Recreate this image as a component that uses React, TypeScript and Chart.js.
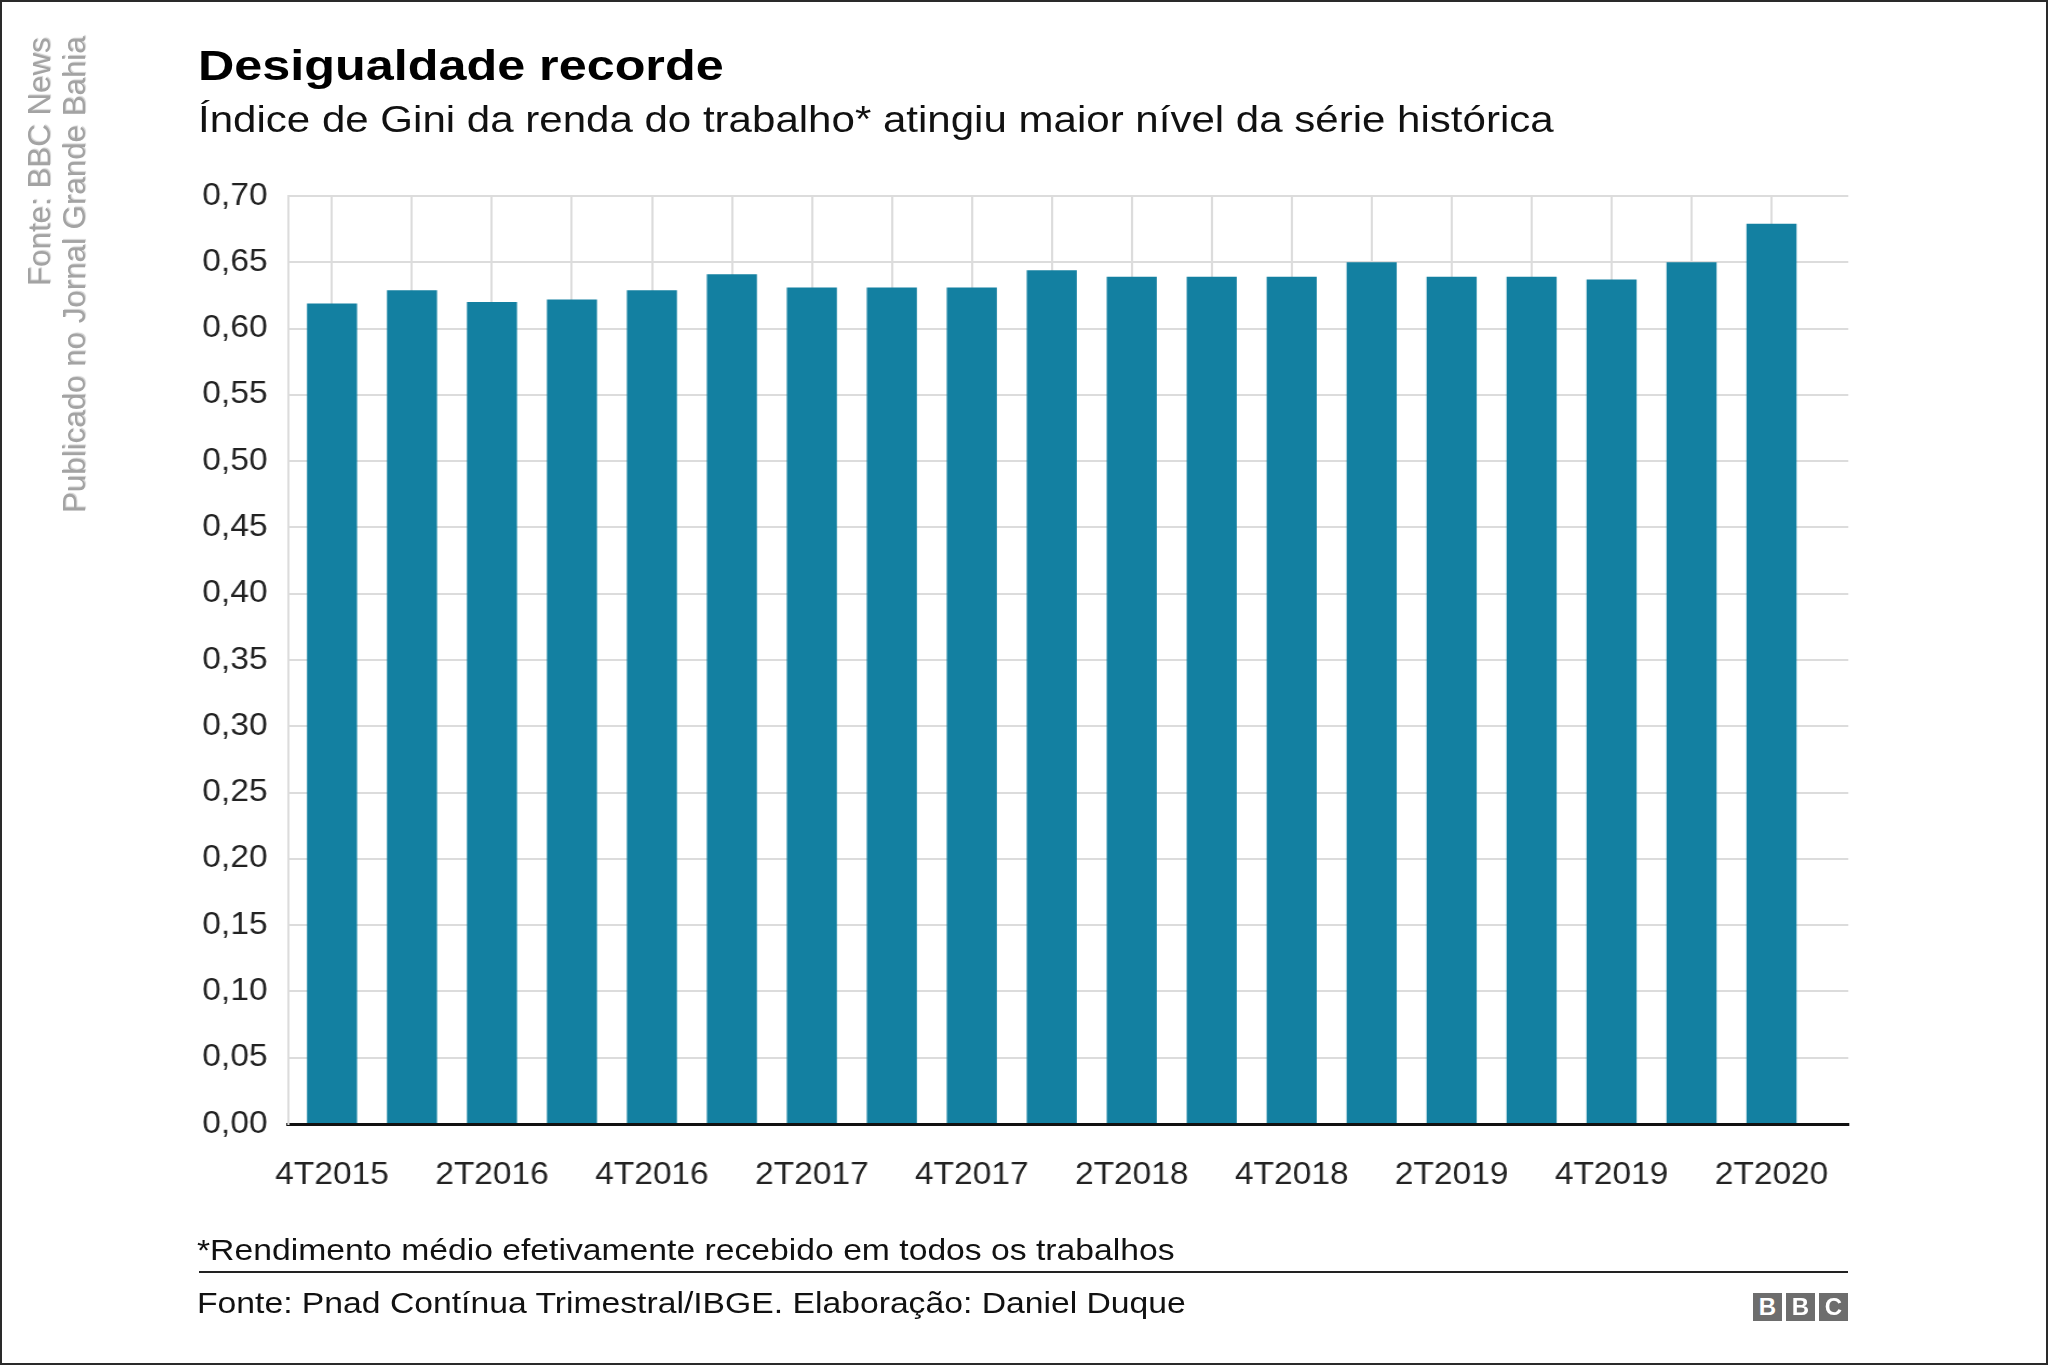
import React, { useEffect, useRef } from 'react';
import { Chart, registerables } from 'chart.js';

Chart.register(...registerables);

// ---------------- data ----------------
const categories = [
  '4T2015', '1T2016', '2T2016', '3T2016', '4T2016', '1T2017', '2T2017', '3T2017', '4T2017',
  '1T2018', '2T2018', '3T2018', '4T2018', '1T2019', '2T2019', '3T2019', '4T2019', '1T2020', '2T2020',
];
const giniValues = [
  0.619, 0.629, 0.620, 0.622, 0.629, 0.641, 0.631, 0.631, 0.631,
  0.644, 0.639, 0.639, 0.639, 0.650, 0.639, 0.639, 0.637, 0.650, 0.679,
];
const labeledCategories = [
  '4T2015', '2T2016', '4T2016', '2T2017', '4T2017', '2T2018', '4T2018', '2T2019', '4T2019', '2T2020',
];
const yTickValues = [0, 0.05, 0.1, 0.15, 0.2, 0.25, 0.3, 0.35, 0.4, 0.45, 0.5, 0.55, 0.6, 0.65, 0.7];

const titleText = 'Desigualdade recorde';
const subtitleText = 'Índice de Gini da renda do trabalho* atingiu maior nível da série histórica';
const noteText = '*Rendimento médio efetivamente recebido em todos os trabalhos';
const sourceText = 'Fonte: Pnad Contínua Trimestral/IBGE. Elaboração: Daniel Duque';
const sideLine1 = 'Fonte: BBC News';
const sideLine2 = 'Publicado no Jornal Grande Bahia';

// ---------------- layout ----------------
const W = 2048;
const H = 1365;
const SX = 1.08; // horizontal stretch of the chart canvas
const TX = 1.15; // horizontal stretch of the footer text
const CW = Math.round(W / SX);
const FONT = '"Liberation Sans", Arial, Helvetica, sans-serif';
const BAR_COLOR = '#1380A1';
const GRID = '#dcdcdc';

const PLOT_LEFT = 288 / SX;
const PLOT_RIGHT = 1848 / SX;
const PLOT_TOP = 196;
const PLOT_BOTTOM = 1124;
const PAD_LEFT = 100;
const PAD_BOTTOM = 100;

function App() {
  const canvasRef = useRef<HTMLCanvasElement | null>(null);

  useEffect(() => {
    const canvas = canvasRef.current;
    if (!canvas) return;
    const chart = new Chart(canvas, {
      type: 'bar',
      data: {
        datasets: [
          {
            data: giniValues.map((v, i) => ({ x: i, y: v })),
            backgroundColor: BAR_COLOR,
            borderWidth: 0,
            categoryPercentage: 1,
            barPercentage: 0.626,
          },
        ],
      },
      options: {
        animation: false,
        responsive: false,
        events: [],
        layout: {
          padding: {
            left: PAD_LEFT,
            right: CW - PLOT_RIGHT,
            top: PLOT_TOP,
            bottom: PAD_BOTTOM,
          },
        },
        plugins: {
          legend: { display: false },
          tooltip: { enabled: false },
          title: { display: false },
        },
        scales: {
          x: {
            type: 'linear',
            min: -0.55,
            max: 18.96,
            offset: false,
            afterFit: (scale: any) => {
              scale.height = H - PAD_BOTTOM - PLOT_BOTTOM;
            },
            afterBuildTicks: (scale: any) => {
              scale.ticks = categories.map((_, i) => ({ value: i }));
            },
            ticks: {
              autoSkip: false,
              maxRotation: 0,
              minRotation: 0,
              includeBounds: false,
              padding: 33,
              color: '#222222',
              font: { family: FONT, size: 31 },
              callback: (_v: any, index: number) => {
                const c = categories[index];
                return labeledCategories.includes(c) ? c : '';
              },
            },
            grid: {
              color: GRID,
              lineWidth: 2,
              drawTicks: false,
              offset: false,
            },
            border: { display: true, color: '#111111', width: 3 },
          },
          y: {
            type: 'linear',
            min: 0,
            max: 0.7,
            afterFit: (scale: any) => {
              scale.width = PLOT_LEFT - PAD_LEFT;
            },
            afterBuildTicks: (scale: any) => {
              scale.ticks = yTickValues.map((v) => ({ value: v }));
            },
            ticks: {
              padding: 19,
              color: '#222222',
              font: { family: FONT, size: 31 },
              callback: (v: any) => Number(v).toFixed(2).replace('.', ','),
            },
            grid: {
              color: GRID,
              lineWidth: 2,
              drawTicks: false,
            },
            border: { display: true, color: GRID, width: 2 },
          },
        },
      },
    });
    return () => chart.destroy();
  }, []);

  const textBase: React.CSSProperties = {
    position: 'absolute',
    whiteSpace: 'nowrap',
    fontFamily: FONT,
    lineHeight: 1,
    margin: 0,
    transformOrigin: 'left top',
  };

  const bbcBox = (left: number, letter: string) => (
    <div
      style={{
        position: 'absolute',
        left,
        top: 1293,
        width: 29,
        height: 28,
        background: '#6d6d6d',
        color: '#ffffff',
        fontFamily: FONT,
        fontWeight: 'bold',
        fontSize: 24,
        lineHeight: '28px',
        textAlign: 'center',
      }}
    >
      {letter}
    </div>
  );

  return (
    <div
      style={{
        position: 'absolute',
        left: 0,
        top: 0,
        width: W,
        height: H,
        background: '#ffffff',
        overflow: 'hidden',
      }}
    >
      <canvas
        ref={canvasRef}
        width={CW}
        height={H}
        style={{ position: 'absolute', left: 0, top: 0, width: `${W}px`, height: `${H}px` }}
      />

      <div
        style={{
          ...textBase,
          left: 198,
          top: 44,
          fontSize: 43,
          fontWeight: 'bold',
          color: '#000000',
          transform: 'scaleX(1.17)',
        }}
      >
        {titleText}
      </div>
      <div
        style={{
          ...textBase,
          left: 198,
          top: 102,
          fontSize: 36,
          color: '#111111',
          transform: 'scaleX(1.168)',
        }}
      >
        {subtitleText}
      </div>

      <div
        style={{
          ...textBase,
          left: 24,
          top: 286,
          fontSize: 31.3,
          color: '#a3a3a3',
          textShadow: '1px 1px 1px #d0d0d0',
          transform: 'rotate(-90deg)',
          transformOrigin: '0 0',
        }}
      >
        {sideLine1}
      </div>
      <div
        style={{
          ...textBase,
          left: 59,
          top: 513,
          fontSize: 31.3,
          color: '#a3a3a3',
          textShadow: '1px 1px 1px #d0d0d0',
          transform: 'rotate(-90deg)',
          transformOrigin: '0 0',
        }}
      >
        {sideLine2}
      </div>

      <div
        style={{
          ...textBase,
          left: 197,
          top: 1235,
          fontSize: 29.3,
          color: '#111111',
          transform: `scaleX(${TX})`,
        }}
      >
        {noteText}
      </div>
      <div
        style={{
          position: 'absolute',
          left: 199,
          top: 1271,
          width: 1649,
          height: 2,
          background: '#222222',
        }}
      />
      <div
        style={{
          ...textBase,
          left: 197,
          top: 1288,
          fontSize: 29.3,
          color: '#111111',
          transform: `scaleX(${TX})`,
        }}
      >
        {sourceText}
      </div>

      {bbcBox(1753, 'B')}
      {bbcBox(1786, 'B')}
      {bbcBox(1819, 'C')}

      <div
        style={{
          position: 'absolute',
          left: 0,
          top: 0,
          width: W,
          height: H,
          boxSizing: 'border-box',
          border: '2px solid #2a2a2a',
          pointerEvents: 'none',
        }}
      />
    </div>
  );
}

export default App;
